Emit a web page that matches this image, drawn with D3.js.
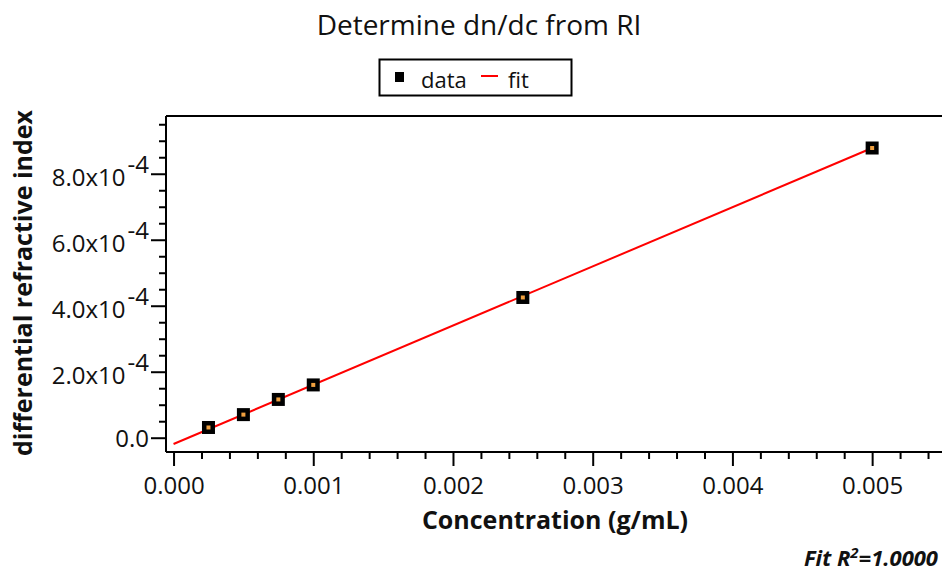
<!DOCTYPE html>
<html>
<head>
<meta charset="utf-8">
<script src="https://cdn.jsdelivr.net/npm/d3@7"></script>
<style>
  body { margin: 0; background: #fff; }
  text { font-family: "Open Sans", "Noto Sans", sans-serif; fill: #111; }
</style>
</head>
<body>
<div id="chart"></div>
<script>
// data
const concentration = [0.00025, 0.0005, 0.00075, 0.001, 0.0025, 0.005];
const deltaRI = [0.31e-4, 0.70e-4, 1.16e-4, 1.60e-4, 4.25e-4, 8.78e-4];
const fitX = [0, 0.005];
const fitY = [-0.19e-4, 8.78e-4];
const xTicks = [0, 0.001, 0.002, 0.003, 0.004, 0.005];
const yTicks = [0, 2e-4, 4e-4, 6e-4, 8e-4];
const yTickLabels = ["0.0", "2.0x10", "4.0x10", "6.0x10", "8.0x10"];

const width = 942, height = 571;
const plot = {left: 166, right: 944, top: 116, bottom: 452};

const svg = d3.select("#chart")
    .append("svg")
    .attr("width", width)
    .attr("height", height);

// scales
const xScale = d3.scaleLinear()
    .domain([-0.000054, 0.0055])
    .range([plot.left, plot.left + 776]);

const yScale = d3.scaleLinear()
    .domain([-0.433e-4, 9.75e-4])
    .range([plot.bottom, plot.top]);

// minor ticks
const xMinor = d3.range(0, 28).map(i => i * 0.0002).filter(v => !xTicks.some(t => Math.abs(t - v) < 1e-9));
const yMinor = d3.range(0, 20).map(i => i * 0.5e-4).filter(v => !yTicks.some(t => Math.abs(t - v) < 1e-12));

// frame top line
svg.append("line")
    .attr("x1", plot.left).attr("x2", width + 2)
    .attr("y1", plot.top).attr("y2", plot.top)
    .attr("stroke", "#000").attr("stroke-width", 2);

// x axis
const xAxis = svg.append("g")
    .attr("transform", `translate(0,${plot.bottom})`)
    .call(d3.axisBottom(xScale).tickValues(xTicks).tickSize(14).tickSizeOuter(0).tickPadding(11)
        .tickFormat(d3.format(".3f")));
xAxis.select(".domain").attr("stroke-width", 2).attr("d", `M${plot.left},0H${width + 2}`);
xAxis.selectAll(".tick line").attr("stroke-width", 2);
xAxis.selectAll(".tick text").style("font-size", "24px");

svg.append("g")
    .attr("transform", `translate(0,${plot.bottom})`)
    .call(d3.axisBottom(xScale).tickValues(xMinor).tickSize(7).tickFormat(""))
    .call(g => g.select(".domain").remove())
    .selectAll(".tick line").attr("stroke-width", 2);

// y axis
const yAxis = svg.append("g")
    .attr("transform", `translate(${plot.left},0)`)
    .call(d3.axisLeft(yScale).tickValues(yTicks).tickSize(15).tickSizeOuter(0).tickPadding(2)
        .tickFormat(""));
yAxis.select(".domain").attr("stroke-width", 2).attr("d", `M0,${plot.top}V${plot.bottom}`);
yAxis.selectAll(".tick line").attr("stroke-width", 2);

yAxis.selectAll(".tick text")
    .text(null)
    .style("font-size", "24px")
    .attr("dy", null)
    .each(function(d, i) {
        const t = d3.select(this);
        if (i === 0) {
            t.attr("dy", "0.35em").text(yTickLabels[i]);
        } else {
            t.attr("dy", 12);
            t.append("tspan").text(yTickLabels[i]);
            t.append("tspan").attr("dy", -13).attr("dx", 2).text("-4");
        }
    });

svg.append("g")
    .attr("transform", `translate(${plot.left},0)`)
    .call(d3.axisLeft(yScale).tickValues(yMinor).tickSize(7).tickFormat(""))
    .call(g => g.select(".domain").remove())
    .selectAll(".tick line").attr("stroke-width", 2);

// fit line
const line = d3.line()
    .x(d => xScale(d[0]))
    .y(d => yScale(d[1]));

svg.append("path")
    .datum(d3.zip(fitX, fitY))
    .attr("d", line)
    .attr("fill", "none")
    .attr("stroke", "#ff0000")
    .attr("stroke-width", 2);

// data markers
const points = d3.zip(concentration, deltaRI);
svg.selectAll(".marker")
    .data(points)
    .enter().append("rect")
    .attr("class", "marker")
    .attr("x", d => xScale(d[0]) - 6.5)
    .attr("y", d => yScale(d[1]) - 6.5)
    .attr("width", 13)
    .attr("height", 13)
    .attr("fill", "#000");

svg.selectAll(".marker-in")
    .data(points)
    .enter().append("rect")
    .attr("class", "marker-in")
    .attr("x", d => xScale(d[0]) - 2)
    .attr("y", d => yScale(d[1]) - 2)
    .attr("width", 4)
    .attr("height", 4)
    .attr("fill", "#f0a040");

// title
svg.append("text")
    .attr("x", 479)
    .attr("y", 35)
    .attr("text-anchor", "middle")
    .style("font-size", "28px")
    .text("Determine dn/dc from RI");

// legend
const legend = svg.append("g");
legend.append("rect")
    .attr("x", 379.5).attr("y", 59.5).attr("width", 192).attr("height", 36)
    .attr("fill", "#fff").attr("stroke", "#000").attr("stroke-width", 2);
legend.append("rect").attr("x", 395).attr("y", 72).attr("width", 9).attr("height", 10).attr("fill", "#000");
legend.append("text").attr("x", 421).attr("y", 88).style("font-size", "22px").text("data");
legend.append("line").attr("x1", 481).attr("x2", 498).attr("y1", 76).attr("y2", 76)
    .attr("stroke", "#ff0000").attr("stroke-width", 2);
legend.append("text").attr("x", 508).attr("y", 88).style("font-size", "22px").text("fit");

// axis labels
svg.append("text")
    .attr("x", 555)
    .attr("y", 529)
    .attr("text-anchor", "middle")
    .style("font-size", "25px")
    .style("font-weight", "bold")
    .text("Concentration (g/mL)");

svg.append("text")
    .attr("transform", "translate(32,283) rotate(-90)")
    .attr("text-anchor", "middle")
    .style("font-size", "25px")
    .style("font-weight", "bold")
    .text("differential refractive index");

// fit statistics
const stat = svg.append("text")
    .attr("x", 938)
    .attr("y", 566)
    .attr("text-anchor", "end")
    .style("font-size", "22px")
    .style("font-weight", "bold")
    .style("font-style", "italic");
stat.append("tspan").text("Fit R");
stat.append("tspan").attr("dy", -8).style("font-size", "15px").text("2");
stat.append("tspan").attr("dy", 8).text("=1.0000");
</script>
</body>
</html>
